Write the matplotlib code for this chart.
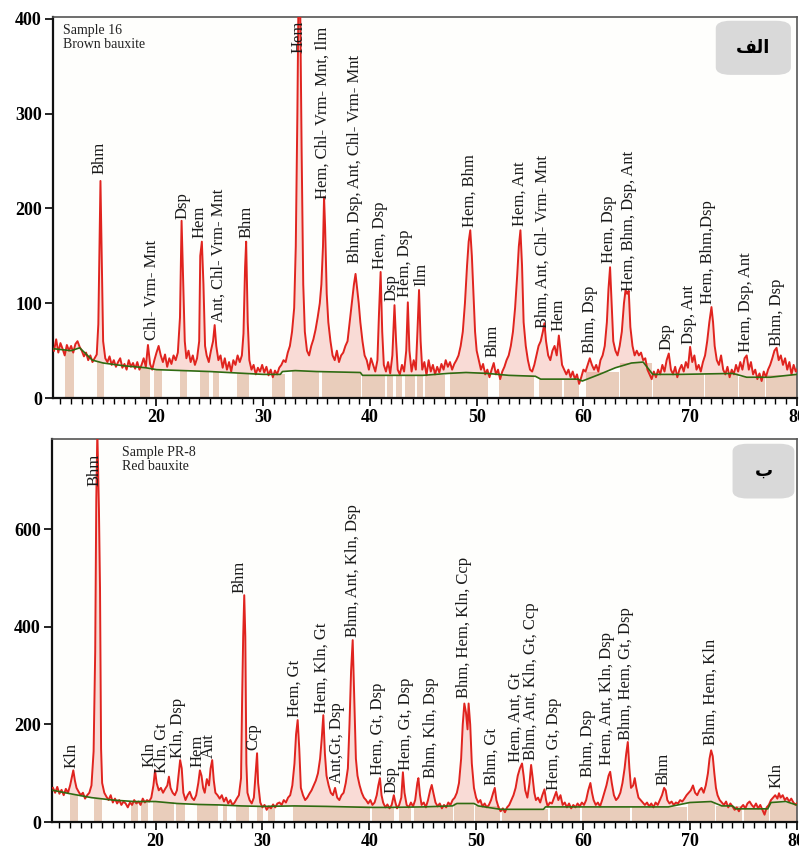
import numpy as np
import matplotlib.pyplot as plt
from matplotlib.patches import FancyBboxPatch

plt.rcParams['font.family'] = ['Liberation Serif', 'DejaVu Serif']

# ---------------- Sample 16 (brown bauxite) ----------------
top_2theta = [
    10.4, 10.6, 10.8, 11.0, 11.2, 11.4, 11.6, 11.8, 12.0, 12.2, 12.4, 12.6, 12.8, 13.0, 13.2, 13.4,
    13.6, 13.8, 14.0, 14.2, 14.4, 14.55, 14.65, 14.75, 14.85, 15.0, 15.2, 15.4, 15.6, 15.8, 16.0,
    16.2, 16.4, 16.6, 16.8, 17.0, 17.2, 17.4, 17.6, 17.8, 18.0, 18.2, 18.4, 18.6, 18.8, 19.0, 19.2,
    19.4, 19.6, 19.8, 20.0, 20.2, 20.4, 20.6, 20.8, 21.0, 21.2, 21.4, 21.6, 21.8, 22.0, 22.2, 22.35,
    22.5, 22.65, 22.8, 23.0, 23.2, 23.4, 23.6, 23.8, 24.0, 24.1, 24.25, 24.4, 24.55, 24.7, 24.9,
    25.1, 25.3, 25.45, 25.6, 25.8, 26.0, 26.2, 26.4, 26.6, 26.8, 27.0, 27.2, 27.4, 27.6, 27.8, 28.0,
    28.15, 28.3, 28.4, 28.55, 28.7, 28.9, 29.1, 29.3, 29.5, 29.7, 29.9, 30.1, 30.3, 30.5, 30.7,
    30.9, 31.1, 31.3, 31.5, 31.7, 31.9, 32.1, 32.3, 32.5, 32.7, 32.9, 33.05, 33.2, 33.3, 33.45,
    33.6, 33.75, 33.9, 34.1, 34.3, 34.5, 34.7, 34.9, 35.1, 35.3, 35.45, 35.6, 35.7, 35.8, 35.95,
    36.1, 36.3, 36.5, 36.7, 36.9, 37.1, 37.3, 37.5, 37.7, 37.9, 38.1, 38.3, 38.5, 38.65, 38.8,
    38.95, 39.1, 39.3, 39.5, 39.7, 39.9, 40.1, 40.3, 40.5, 40.7, 40.85, 41.0, 41.15, 41.3, 41.5,
    41.7, 41.9, 42.1, 42.3, 42.45, 42.6, 42.8, 43.0, 43.2, 43.4, 43.55, 43.7, 43.9, 44.1, 44.3,
    44.45, 44.6, 44.75, 44.9, 45.1, 45.3, 45.5, 45.7, 45.9, 46.1, 46.3, 46.5, 46.7, 46.9, 47.1,
    47.3, 47.5, 47.7, 47.9, 48.1, 48.3, 48.5, 48.7, 48.9, 49.1, 49.25, 49.4, 49.55, 49.7, 49.85,
    50.0, 50.2, 50.4, 50.6, 50.8, 51.0, 51.2, 51.4, 51.6, 51.8, 52.0, 52.2, 52.4, 52.6, 52.8, 53.0,
    53.2, 53.4, 53.6, 53.8, 53.95, 54.1, 54.25, 54.4, 54.6, 54.8, 55.0, 55.2, 55.4, 55.6, 55.8,
    56.0, 56.2, 56.35, 56.5, 56.7, 56.9, 57.1, 57.3, 57.5, 57.7, 57.85, 58.0, 58.2, 58.4, 58.6,
    58.8, 59.0, 59.2, 59.4, 59.6, 59.8, 60.0, 60.2, 60.4, 60.6, 60.8, 61.0, 61.2, 61.4, 61.6, 61.8,
    62.0, 62.2, 62.35, 62.5, 62.65, 62.8, 63.0, 63.2, 63.4, 63.6, 63.8, 63.95, 64.1, 64.25, 64.4,
    64.6, 64.8, 65.0, 65.2, 65.4, 65.6, 65.8, 66.0, 66.2, 66.4, 66.6, 66.8, 67.0, 67.2, 67.4, 67.6,
    67.8, 68.0, 68.2, 68.4, 68.6, 68.8, 69.0, 69.2, 69.4, 69.6, 69.8, 70.0, 70.2, 70.4, 70.6, 70.8,
    71.0, 71.2, 71.4, 71.6, 71.8, 72.0, 72.15, 72.3, 72.5, 72.7, 72.9, 73.1, 73.3, 73.5, 73.7,
    73.9, 74.1, 74.3, 74.5, 74.7, 74.9, 75.1, 75.3, 75.5, 75.7, 75.9, 76.1, 76.3, 76.5, 76.7,
    76.9, 77.1, 77.3, 77.5, 77.7, 77.9, 78.1, 78.3, 78.5, 78.7, 78.9, 79.1, 79.3, 79.5, 79.7,
    79.9, 80.0]
top_counts = [
    50, 62, 48, 58, 52, 45, 56, 50, 55, 48, 57, 60, 54, 50, 44, 48,
    40, 45, 38, 42, 46, 78, 155, 229, 160, 60, 42, 38, 44, 35, 40,
    33, 38, 42, 32, 36, 30, 40, 33, 37, 31, 38, 30, 35, 42, 33, 56,
    36, 30, 40, 48, 55, 45, 38, 46, 33, 42, 36, 45, 40, 48, 85, 187,
    125, 60, 42, 50, 38, 45, 35, 42, 60, 150, 165, 120, 55, 45, 38,
    50, 60, 77, 55, 40, 45, 32, 42, 30, 38, 28, 40, 35, 45, 38, 45,
    68, 138, 165, 80, 40, 30, 35, 25, 32, 28, 35, 27, 33, 24, 30,
    22, 29, 25, 32, 35, 40, 38, 48, 55, 70, 95, 160, 300, 420, 430,
    260, 120, 70, 50, 45, 55, 62, 72, 85, 100, 120, 160, 212, 180, 110,
    80, 60, 45, 40, 50, 38, 45, 48, 55, 60, 80, 100, 120, 131, 115,
    100, 80, 60, 45, 40, 30, 42, 35, 28, 40, 90, 133, 70, 35, 28,
    38, 26, 45, 98, 60, 30, 25, 35, 28, 50, 101, 50, 28, 40, 30,
    70, 114, 60, 30, 38, 24, 40, 28, 35, 25, 33, 27, 36, 30, 40,
    33, 38, 30, 36, 40, 45, 55, 70, 100, 140, 165, 177, 150, 110, 70,
    50, 40, 30, 36, 25, 30, 22, 30, 37, 25, 30, 20, 28, 33, 40, 45,
    55, 70, 95, 130, 160, 177, 140, 80, 55, 40, 30, 28, 35, 45, 55,
    60, 70, 79, 60, 45, 40, 50, 55, 45, 66, 50, 35, 30, 25, 30,
    22, 28, 20, 25, 15, 22, 30, 28, 35, 42, 35, 30, 35, 28, 40, 45,
    55, 80, 115, 138, 100, 60, 50, 45, 55, 70, 100, 114, 110, 113, 75,
    55, 45, 50, 45, 48, 40, 42, 30, 25, 20, 28, 22, 30, 25, 35, 28,
    40, 47, 30, 25, 33, 22, 30, 35, 28, 38, 32, 54, 38, 45, 30, 35,
    28, 38, 45, 60, 80, 96, 80, 55, 40, 35, 45, 30, 25, 33, 22,
    30, 25, 35, 28, 38, 30, 42, 45, 30, 38, 25, 30, 20, 26, 18,
    28, 22, 30, 35, 42, 50, 53, 40, 45, 35, 42, 30, 38, 25, 35,
    28, 30]

top_bg_2theta = [10.4, 12.0, 12.8, 14.0, 15.0, 17.0, 19.0, 20.0, 25.0, 30.0, 31.6, 31.8, 33.0,
                 35.0, 39.1, 39.3, 45.0, 47.3, 49.0, 51.0, 53.0, 55.5, 56.0, 59.5, 59.9, 61.5,
                 63.0, 64.5, 65.6, 66.5, 69.0, 74.0, 75.3, 77.5, 80.0]
top_bg_counts = [52, 50, 53, 40, 37, 34, 32, 30, 28, 25, 25, 28, 29,
                 28, 27, 24, 24, 26, 27, 26, 24, 23, 20, 20, 18, 25,
                 32, 37, 38, 25, 25, 26, 22, 22, 25]

top_bar_left = [11.4, 14.4, 18.5, 19.8, 22.2, 24.1, 25.3, 27.5, 30.8, 32.7, 35.5, 39.3, 41.6,
                42.4, 43.3, 44.4, 45.2, 47.5, 52.1, 55.8, 58.2, 60.2, 63.4, 66.5, 71.4, 74.6, 77.1]
top_bar_right = [12.3, 15.1, 19.4, 20.5, 22.9, 24.9, 25.9, 28.7, 32.0, 35.2, 39.2, 41.4, 42.2,
                 43.0, 44.2, 45.0, 47.0, 51.1, 55.4, 58.0, 59.6, 63.3, 66.4, 71.3, 74.5, 77.0, 80.0]
top_bar_height = [51, 38, 32, 30, 29, 28, 28, 26, 25, 29, 27, 24, 24,
                  24, 24, 24, 24, 27, 24, 20, 19, 27, 37, 25, 26, 22, 24]

top_labels = ['Bhm', 'Chl- Vrm- Mnt', 'Dsp', 'Hem', 'Ant, Chl- Vrm- Mnt', 'Bhm', 'Hem',
              'Hem, Chl- Vrm- Mnt, Ilm', 'Bhm, Dsp, Ant, Chl- Vrm- Mnt', 'Hem, Dsp', 'Dsp',
              'Hem, Dsp', 'Ilm', 'Hem, Bhm', 'Bhm', 'Hem, Ant', 'Bhm, Ant, Chl- Vrm- Mnt', 'Hem',
              'Bhm, Dsp', 'Hem, Dsp', 'Hem, Bhm, Dsp, Ant', 'Dsp', 'Dsp, Ant', 'Hem, Bhm,Dsp',
              'Hem, Dsp, Ant', 'Bhm, Dsp']
top_label_x = [14.7, 19.6, 22.4, 24.0, 25.8, 28.4, 33.3, 35.6, 38.6, 40.9, 42.0, 43.3, 44.8,
               49.3, 51.5, 54.0, 56.2, 57.7, 60.6, 62.4, 64.3, 67.8, 69.9, 71.7, 75.2, 78.1]
top_label_y = [236, 61, 189, 169, 80, 169, 364, 210, 143, 136, 102, 107, 118,
               180, 43, 181, 74, 71, 48, 143, 113, 51, 57, 99, 49, 55]

# ---------------- Sample PR-8 (red bauxite) ----------------
bot_2theta = [
    10.4, 10.6, 10.8, 11.0, 11.2, 11.4, 11.6, 11.8, 12.0, 12.15, 12.3, 12.45, 12.6, 12.8, 13.0,
    13.2, 13.4, 13.6, 13.8, 14.0, 14.2, 14.35, 14.45, 14.55, 14.7, 14.8, 14.9, 15.0, 15.2, 15.4,
    15.6, 15.8, 16.0, 16.2, 16.4, 16.6, 16.8, 17.0, 17.2, 17.4, 17.6, 17.8, 18.0, 18.2, 18.4,
    18.6, 18.8, 19.0, 19.2, 19.4, 19.6, 19.8, 19.95, 20.1, 20.3, 20.5, 20.7, 20.9, 21.1, 21.25,
    21.4, 21.6, 21.8, 22.0, 22.15, 22.3, 22.45, 22.6, 22.8, 23.0, 23.2, 23.4, 23.6, 23.8, 24.0,
    24.15, 24.3, 24.45, 24.6, 24.8, 25.0, 25.15, 25.3, 25.45, 25.6, 25.8, 26.0, 26.2, 26.4, 26.6,
    26.8, 27.0, 27.2, 27.4, 27.6, 27.8, 28.0, 28.1, 28.2, 28.3, 28.4, 28.5, 28.6, 28.8, 29.0,
    29.2, 29.35, 29.5, 29.6, 29.8, 30.0, 30.2, 30.4, 30.6, 30.8, 31.0, 31.2, 31.4, 31.6, 31.8,
    32.0, 32.2, 32.4, 32.6, 32.8, 33.0, 33.15, 33.3, 33.45, 33.6, 33.8, 34.0, 34.2, 34.4, 34.6,
    34.8, 35.0, 35.2, 35.4, 35.55, 35.7, 35.85, 36.0, 36.2, 36.4, 36.6, 36.8, 37.0, 37.2, 37.4,
    37.6, 37.8, 38.0, 38.15, 38.3, 38.45, 38.6, 38.75, 38.9, 39.1, 39.3, 39.5, 39.7, 39.9, 40.1,
    40.3, 40.5, 40.7, 40.85, 41.0, 41.15, 41.3, 41.5, 41.7, 41.9, 42.1, 42.3, 42.45, 42.6, 42.8,
    43.0, 43.15, 43.3, 43.5, 43.7, 43.9, 44.1, 44.3, 44.5, 44.6, 44.75, 44.9, 45.1, 45.3, 45.5,
    45.7, 45.85, 46.0, 46.2, 46.4, 46.6, 46.8, 47.0, 47.2, 47.4, 47.6, 47.8, 48.0, 48.2, 48.4,
    48.6, 48.75, 48.9, 49.05, 49.2, 49.3, 49.45, 49.6, 49.8, 50.0, 50.2, 50.4, 50.6, 50.8, 51.0,
    51.2, 51.4, 51.6, 51.75, 51.9, 52.1, 52.3, 52.5, 52.7, 52.9, 53.1, 53.3, 53.5, 53.7, 53.9,
    54.1, 54.3, 54.45, 54.6, 54.8, 55.0, 55.15, 55.3, 55.45, 55.6, 55.8, 56.0, 56.2, 56.4, 56.55,
    56.7, 56.9, 57.1, 57.3, 57.5, 57.7, 57.9, 58.1, 58.3, 58.5, 58.7, 58.9, 59.1, 59.3, 59.5,
    59.7, 59.9, 60.1, 60.3, 60.5, 60.7, 60.85, 61.0, 61.2, 61.4, 61.6, 61.8, 62.0, 62.2, 62.4,
    62.55, 62.7, 62.9, 63.1, 63.3, 63.5, 63.7, 63.9, 64.05, 64.2, 64.35, 64.5, 64.7, 64.85, 65.0,
    65.2, 65.4, 65.6, 65.8, 66.0, 66.2, 66.4, 66.6, 66.8, 67.0, 67.2, 67.4, 67.6, 67.75, 67.9,
    68.1, 68.3, 68.5, 68.7, 68.9, 69.1, 69.3, 69.5, 69.7, 69.9, 70.1, 70.3, 70.5, 70.7, 70.9,
    71.1, 71.3, 71.5, 71.7, 71.85, 72.0, 72.15, 72.3, 72.45, 72.6, 72.8, 73.0, 73.2, 73.4, 73.6,
    73.8, 74.0, 74.2, 74.4, 74.6, 74.8, 75.0, 75.2, 75.4, 75.6, 75.8, 76.0, 76.2, 76.4, 76.6,
    76.8, 77.0, 77.2, 77.4, 77.6, 77.8, 78.0, 78.2, 78.35, 78.5, 78.7, 78.9, 79.1, 79.3, 79.5,
    79.7, 79.9, 80.0]
bot_counts = [
    70, 60, 72, 58, 66, 55, 68, 60, 75, 90, 106, 85, 70, 62, 55,
    60, 48, 55, 60, 75, 145, 350, 660, 800, 640, 480, 150, 80, 60, 52,
    45, 55, 40, 48, 38, 45, 35, 42, 38, 30, 40, 35, 45, 38, 42,
    35, 48, 40, 45, 42, 50, 75, 106, 80, 65, 70, 60, 68, 75, 93,
    70, 60, 55, 65, 95, 127, 110, 60, 45, 55, 62, 50, 45, 55, 80,
    106, 95, 70, 60, 88, 75, 110, 127, 85, 60, 55, 48, 55, 42, 50,
    38, 45, 35, 40, 48, 55, 90, 250, 380, 465, 380, 120, 60, 45, 38,
    50, 95, 141, 80, 40, 30, 35, 25, 32, 28, 36, 30, 38, 40, 35,
    45, 40, 50, 55, 75, 120, 180, 209, 150, 70, 55, 45, 50, 58, 65,
    75, 85, 100, 130, 170, 219, 140, 95, 75, 60, 55, 70, 50, 45, 55,
    60, 80, 110, 200, 310, 373, 250, 130, 95, 75, 60, 50, 45, 38, 45,
    35, 40, 55, 75, 90, 55, 40, 30, 36, 28, 35, 55, 40, 28, 35,
    50, 102, 60, 35, 30, 40, 32, 45, 80, 90, 55, 35, 40, 30, 45,
    65, 76, 60, 40, 32, 38, 28, 35, 30, 40, 35, 45, 50, 60, 80,
    130, 200, 243, 225, 190, 243, 200, 120, 70, 50, 40, 45, 32, 38, 30,
    35, 45, 60, 70, 45, 30, 22, 28, 20, 30, 35, 45, 55, 70, 95,
    110, 120, 95, 65, 50, 80, 117, 90, 60, 45, 50, 40, 55, 67, 45,
    32, 40, 38, 50, 62, 45, 55, 35, 40, 30, 38, 28, 35, 30, 38,
    32, 40, 35, 45, 65, 80, 60, 45, 35, 40, 32, 45, 60, 75, 95,
    103, 80, 55, 45, 50, 60, 80, 110, 140, 164, 110, 70, 75, 90, 70,
    50, 45, 40, 35, 40, 32, 38, 30, 40, 35, 45, 55, 70, 65, 45,
    38, 42, 35, 40, 38, 45, 42, 48, 55, 60, 65, 75, 60, 55, 65,
    70, 60, 75, 100, 130, 147, 135, 100, 70, 55, 45, 40, 35, 42, 30,
    38, 32, 25, 30, 22, 30, 35, 28, 38, 42, 35, 30, 38, 28, 35,
    25, 15, 30, 35, 45, 50, 55, 48, 59, 50, 55, 45, 50, 42, 48,
    40, 35, 38]

bot_bg_2theta = [10.4, 12.0, 14.0, 16.0, 18.0, 20.0, 22.0, 24.0, 26.0, 28.0, 30.0, 33.0, 36.0,
                 38.0, 40.0, 42.0, 45.0, 47.8, 48.2, 49.8, 50.2, 52.3, 56.3, 56.5, 63.0, 68.0,
                 70.0, 72.0, 73.0, 74.0, 74.3, 77.3, 77.6, 79.0, 80.0]
bot_bg_counts = [65, 58, 50, 45, 42, 42, 38, 36, 35, 33, 32, 33, 32,
                 31, 30, 30, 31, 33, 38, 38, 33, 26, 26, 31, 31, 31,
                 40, 42, 33, 33, 27, 27, 40, 42, 35]

bot_bar_left = [12.0, 14.2, 17.7, 18.6, 19.8, 21.9, 23.9, 26.3, 27.5, 29.5, 30.5, 32.9, 40.3,
                42.8, 44.2, 47.9, 49.9, 52.4, 56.9, 59.9, 64.6, 69.8, 72.5, 75.1, 77.5]
bot_bar_right = [12.7, 15.0, 18.4, 19.3, 21.7, 22.8, 25.8, 26.7, 28.7, 30.1, 31.2, 40.1, 42.3,
                 43.9, 47.8, 49.8, 52.2, 56.7, 59.7, 64.4, 69.7, 72.4, 74.9, 77.4, 80.0]
bot_bar_height = [55, 48, 42, 42, 42, 40, 37, 35, 33, 32, 32, 33, 30,
                  30, 31, 38, 33, 26, 31, 31, 31, 42, 32, 27, 40]

bot_labels = ['Kln', 'Bhm', 'Kln', 'Kln, Gt', 'Kln, Dsp', 'Hem', 'Ant', 'Bhm', 'Ccp', 'Hem, Gt',
              'Hem, Kln, Gt', 'Ant,Gt, Dsp', 'Bhm, Ant, Kln, Dsp', 'Hem, Gt, Dsp', 'Dsp',
              'Hem, Gt, Dsp', 'Bhm, Kln, Dsp', 'Bhm, Hem, Kln, Ccp', 'Bhm, Gt', 'Hem, Ant, Gt',
              'Bhm, Ant, Kln, Gt, Ccp', 'Hem, Gt, Dsp', 'Bhm, Dsp', 'Hem, Ant, Kln, Dsp',
              'Bhm, Hem, Gt, Dsp', 'Bhm', 'Bhm, Hem, Kln', 'Kln']
bot_label_x = [12.1, 14.3, 19.4, 20.6, 22.1, 23.9, 25.0, 27.9, 29.2, 33.0, 35.5, 37.0, 38.5,
               40.8, 42.1, 43.4, 45.8, 48.9, 51.5, 53.7, 55.1, 57.3, 60.5, 62.3, 64.0, 67.5,
               72.0, 78.1]
bot_label_y = [110, 690, 112, 100, 131, 113, 131, 469, 147, 215, 223, 80, 379, 96, 59, 106, 90,
               254, 76, 123, 127, 66, 92, 117, 168, 76, 158, 70]

panels = [
    dict(x=top_2theta, y=top_counts, bgx=top_bg_2theta, bgy=top_bg_counts,
         bl=top_bar_left, br=top_bar_right, bh=top_bar_height,
         labels=top_labels, lx=top_label_x, ly=top_label_y,
         ylim=(0, 402), yticks=[0, 100, 200, 300, 400],
         name='Sample 16\nBrown bauxite', name_x=0.0135, tag='\uFED2\uFEDF\uFE8D',
         box=(0.891, 0.848, 0.101, 0.142),
         rect=[0.0663, 0.530, 0.931, 0.450]),
    dict(x=bot_2theta, y=bot_counts, bgx=bot_bg_2theta, bgy=bot_bg_counts,
         bl=bot_bar_left, br=bot_bar_right, bh=bot_bar_height,
         labels=bot_labels, lx=bot_label_x, ly=bot_label_y,
         ylim=(0, 785), yticks=[0, 200, 400, 600],
         name='Sample PR-8\nRed bauxite', name_x=0.094, tag='\uFE8F',
         box=(0.914, 0.845, 0.083, 0.143),
         rect=[0.0650, 0.0295, 0.932, 0.452]),
]

fig = plt.figure(figsize=(7.99, 8.47), dpi=100)

for p in panels:
    ax = fig.add_axes(p['rect'])
    x = np.array(p['x'])
    y = np.array(p['y'])
    bg = np.interp(x, p['bgx'], p['bgy'])

    # tan reference bars below the background
    for l, r, h in zip(p['bl'], p['br'], p['bh']):
        ax.bar(l, h, width=r - l, align='edge', color='#e9cdbb', edgecolor='none', zorder=1)
    # peak area fill
    ax.fill_between(x, bg, y, where=y > bg, color='#f09a90', alpha=0.35, lw=0, zorder=2)
    ax.plot(x, y, color='#e0241f', lw=1.4, zorder=3)
    ax.plot(p['bgx'], p['bgy'], color='#2f6b12', lw=1.2, zorder=4)

    for lab, lx, ly in zip(p['labels'], p['lx'], p['ly']):
        ax.text(lx, ly, lab, rotation=90, ha='center', va='bottom', fontsize=12,
                color='#1a1a1a', zorder=5)

    ax.text(p['name_x'], 0.982, p['name'], transform=ax.transAxes, ha='left', va='top',
            fontsize=10, color='#222222', linespacing=1.1)

    # panel tag box
    bx, by, bw, bh = p['box']
    box = FancyBboxPatch((bx, by), bw, bh, transform=ax.transAxes,
                         boxstyle='round,pad=0.0,rounding_size=0.02',
                         facecolor='#d9d9d9', edgecolor='none', zorder=6)
    ax.add_patch(box)
    ax.text(bx + bw / 2, by + bh / 2, p['tag'], transform=ax.transAxes, ha='center',
            va='center', fontsize=13, fontweight='bold', family='DejaVu Sans', zorder=7)

    ax.set_xlim(10.3, 80)
    ax.set_ylim(*p['ylim'])
    ax.set_xticks([20, 30, 40, 50, 60, 70, 80])
    ax.set_xticks(np.arange(11, 80, 1), minor=True)
    ax.set_yticks(p['yticks'])
    ax.tick_params(axis='both', which='major', direction='out', length=6, width=1.2,
                   labelsize=13, pad=2)
    ax.tick_params(axis='x', which='minor', direction='out', length=4, width=1)
    for t in ax.get_xticklabels() + ax.get_yticklabels():
        t.set_fontweight('bold')
    for s in ['left', 'bottom']:
        ax.spines[s].set_linewidth(1.6)
        ax.spines[s].set_color('#111111')
    for s in ['top', 'right']:
        ax.spines[s].set_linewidth(1.2)
        ax.spines[s].set_color('#555555')
    ax.set_facecolor('#fefefc')

fig.savefig('out.png', dpi=100, facecolor='white')
